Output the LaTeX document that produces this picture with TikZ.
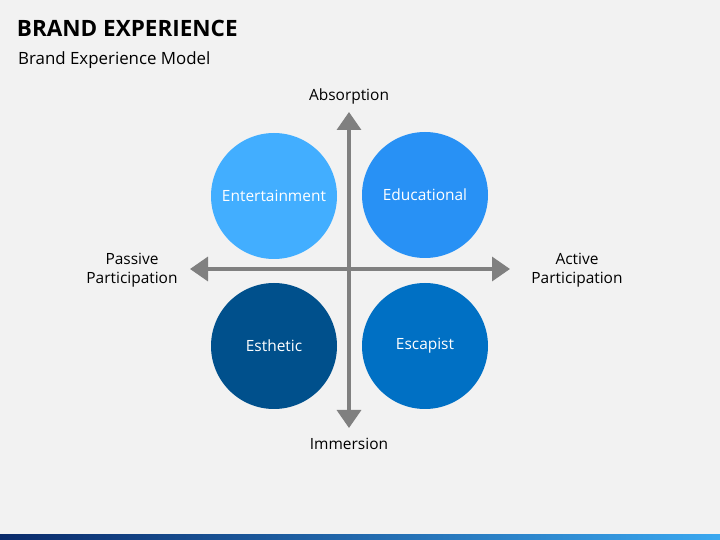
\documentclass[tikz,border=0pt]{standalone}
\usepackage{fontspec}
\setmainfont{Open Sans}
\usetikzlibrary{arrows.meta}
\definecolor{bgray}{HTML}{F2F2F2}
\definecolor{axisgray}{HTML}{808080}
\definecolor{cEnt}{HTML}{42AEFF}
\definecolor{cEdu}{HTML}{2891F5}
\definecolor{cEst}{HTML}{00508C}
\definecolor{cEsc}{HTML}{0070C4}
\definecolor{barA}{HTML}{0A2A6A}
\definecolor{barB}{HTML}{3AA8F0}
\tikzset{
  quad/.style={circle,minimum size=3.15cm,inner sep=0pt,text=white,font=\fontsize{11}{13}\selectfont},
  axislabel/.style={align=center,font=\fontsize{11}{13.5}\selectfont},
  axis/.style={draw=axisgray,line width=2.4pt,-{Triangle[length=0.45cm,width=0.6cm]}}
}
\begin{document}
\begin{tikzpicture}
  \fill[bgray] (0,0) rectangle (18,13.5);
  \useasboundingbox (0,0) rectangle (18,13.5);
  \shade[left color=barA,right color=barB] (0,0) rectangle (18,0.15);
  % titles
  \node[anchor=west,font=\bfseries\fontsize{16}{18}\selectfont] (title) at (0.3,12.8) {BRAND EXPERIENCE};
  \node[anchor=west,font=\fontsize{12}{14}\selectfont] (subtitle) at (0.33,12.0) {Brand Experience Model};
  % axes
  \coordinate (c) at (8.725,6.775);
  \coordinate (top) at (8.725,10.7);
  \coordinate (bottom) at (8.725,2.8);
  \coordinate (left) at (4.75,6.775);
  \coordinate (right) at (12.75,6.775);
  \draw[axis] (c) -- (top);
  \draw[axis] (c) -- (bottom);
  \draw[axis] (c) -- (left);
  \draw[axis] (c) -- (right);
  % quadrants
  \node[quad,fill=cEnt] (ent) at (6.85,8.6) {Entertainment};
  \node[quad,fill=cEdu] (edu) at (10.625,8.625) {Educational};
  \node[quad,fill=cEst] (est) at (6.85,4.85) {Esthetic};
  \node[quad,fill=cEsc] (esc) at (10.625,4.85) {Escapist};
  % axis labels
  \node[axislabel] (absorb) at (8.725,11.1) {Absorption};
  \node[axislabel] (immerse) at (8.725,2.4) {Immersion};
  \node[axislabel] (passive) at (3.3,6.75) {Passive\\Participation};
  \node[axislabel] (active) at (14.425,6.75) {Active\\Participation};
\end{tikzpicture}
\end{document}
